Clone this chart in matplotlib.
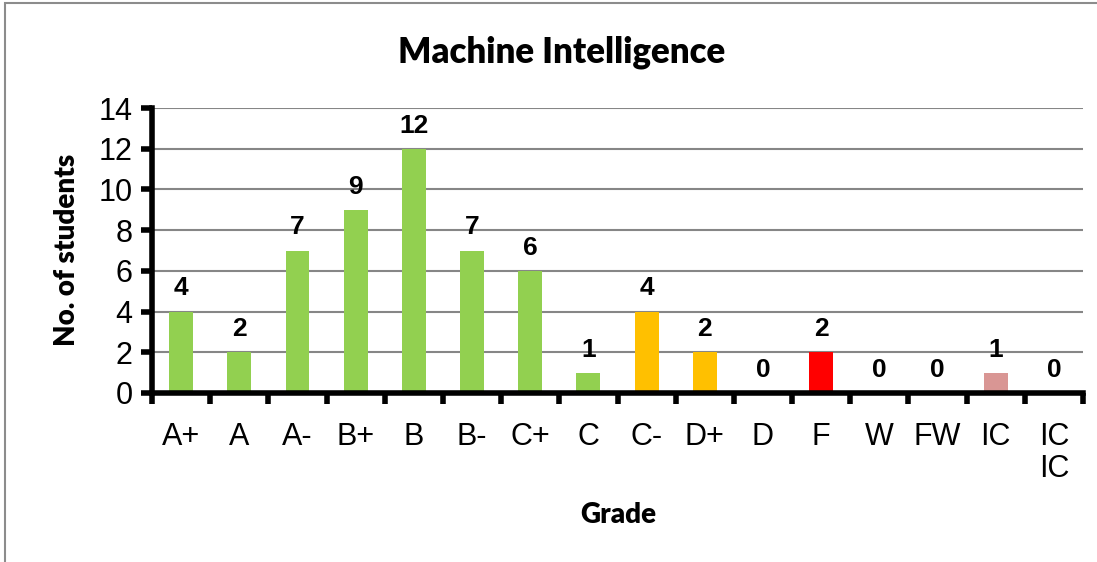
import numpy as np
import matplotlib.pyplot as plt
from matplotlib.patches import Rectangle

grades = ['A+', 'A', 'A-', 'B+', 'B', 'B-', 'C+', 'C', 'C-', 'D+', 'D', 'F', 'W', 'FW', 'IC', 'IC\nIC']
counts = [4, 2, 7, 9, 12, 7, 6, 1, 4, 2, 0, 2, 0, 0, 1, 0]
colors = ['#92D050'] * 8 + ['#FFC000', '#FFC000', '#FFC000', '#FF0000', '#FF0000', '#FF0000',
                             '#D99694', '#D99694']

fig = plt.figure(figsize=(10.97, 5.62), dpi=100)
ax = fig.add_axes([152 / 1097, 1 - 393 / 562, (1083 - 152) / 1097, (393 - 108) / 562])

# outer chart frame (cropped at right and bottom)
fig.patches.append(Rectangle((5 / 1097, -0.1), 1.2, 1 - 3 / 562 + 0.1, transform=fig.transFigure,
                             fill=False, edgecolor='#8c8c8c', linewidth=1.5))

x = np.arange(len(grades))
ax.bar(x, counts, width=0.41, color=colors, zorder=3)
for xi, c in zip(x, counts):
    ax.annotate(str(c), (xi, c), xytext=(0, 8), textcoords='offset points', ha='center',
                va='bottom', fontsize=19, fontweight='bold', family='Liberation Sans')

ax.set_xlim(-0.5, len(grades) - 0.5)
ax.set_ylim(0, 14)
ax.set_yticks(range(0, 15, 2))
ax.yaxis.grid(True, color='#868686', linewidth=1.5, zorder=0)
ax.set_axisbelow(True)

ax.set_xticks(x)
ax.set_xticklabels(grades, fontsize=22, family='Liberation Sans', va='top', linespacing=1.1)
ax.set_xticks(np.arange(-0.5, len(grades)), minor=True)
ax.tick_params(axis='x', which='major', length=0, pad=21)
ax.tick_params(axis='x', which='minor', length=8, width=4, direction='out')
ax.tick_params(axis='y', length=8, width=4, direction='out', pad=6, labelsize=22)
for lab in ax.get_yticklabels():
    lab.set_family('Liberation Sans')

for s in ['top', 'right']:
    ax.spines[s].set_visible(False)
for s in ['left', 'bottom']:
    ax.spines[s].set_linewidth(4)
    ax.spines[s].set_zorder(5)

fig.text(562 / 1097, 1 - 52 / 562, 'Machine Intelligence', ha='center', va='center',
         fontsize=25, fontweight='heavy', family='Lato')
fig.text(67 / 1097, 1 - 250 / 562, 'No. of students', ha='center', va='center', rotation=90,
         fontsize=20, fontweight='heavy', family='Lato')
fig.text(618 / 1097, 1 - 515 / 562, 'Grade', ha='center', va='center',
         fontsize=20, fontweight='heavy', family='Lato')

plt.savefig('out.png', dpi=100)
